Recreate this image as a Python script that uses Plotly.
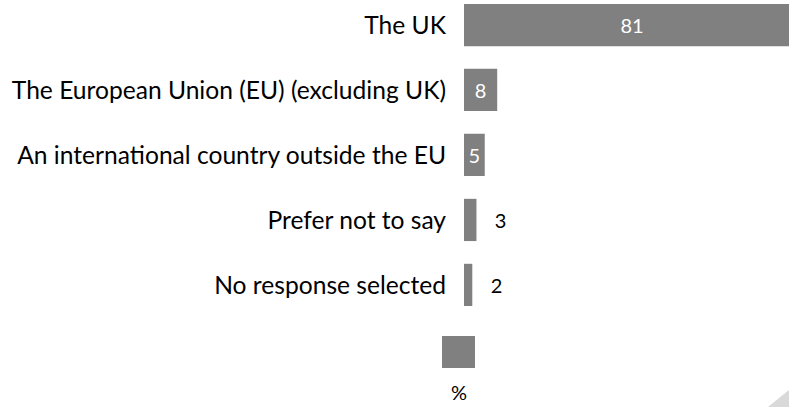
import plotly.graph_objects as go

# Survey responses: where the respondent is based (%)
categories = [
    "The UK",
    "The European Union (EU) (excluding UK)",
    "An international country outside the EU",
    "Prefer not to say",
    "No response selected",
]
values = [81, 8, 5, 3, 2]
series_name = "%"

BAR_COLOR = "#808080"
FONT = "Lato"

# Small bars carry their value outside, larger ones inside in white
text_pos = ["inside" if v >= 5 else "outside" for v in values]
text_col = ["white" if v >= 5 else "black" for v in values]
text_tpl = ["%{x}" if v >= 5 else "\u00a0\u00a0\u00a0%{x}" for v in values]

fig = go.Figure(
    go.Bar(
        name=series_name,
        x=values,
        y=categories,
        orientation="h",
        marker=dict(color=BAR_COLOR, line=dict(width=0)),
        width=0.65,
        texttemplate=text_tpl,
        textposition=text_pos,
        insidetextanchor="middle",
        constraintext="none",
        textfont=dict(family=FONT, size=20, color=text_col),
        showlegend=False,
    )
)

fig.update_layout(
    width=789,
    height=407,
    margin=dict(l=464, r=0, t=0, b=87),
    paper_bgcolor="white",
    plot_bgcolor="white",
    font=dict(family=FONT, size=24.6, color="black"),
    xaxis=dict(range=[0, 78.3], visible=False, fixedrange=True),
    yaxis=dict(
        type="category",
        categoryorder="array",
        categoryarray=categories,
        range=[4.54, -0.385],
        showgrid=False,
        showline=False,
        zeroline=False,
        ticks="",
        ticklabelstandoff=17,
        tickfont=dict(family=FONT, size=24.6, color="black"),
    ),
    shapes=[
        # legend swatch
        dict(type="rect", xref="paper", yref="paper",
             x0=-0.0677, x1=0.0338, y0=-0.15, y1=-0.05,
             fillcolor=BAR_COLOR, line=dict(width=0)),
        # corner decoration
        dict(type="path", xref="paper", yref="paper",
             path="M 0.935 -0.272 L 1.0 -0.219 L 1.0 -0.272 Z",
             fillcolor="#d9d9d9", line=dict(width=0), layer="below"),
    ],
    annotations=[
        dict(text=series_name, xref="paper", yref="paper",
             x=-0.0169, y=-0.225, showarrow=False,
             xanchor="center", yanchor="middle",
             font=dict(family=FONT, size=20, color="black")),
    ],
)

fig.write_html("out.html")
